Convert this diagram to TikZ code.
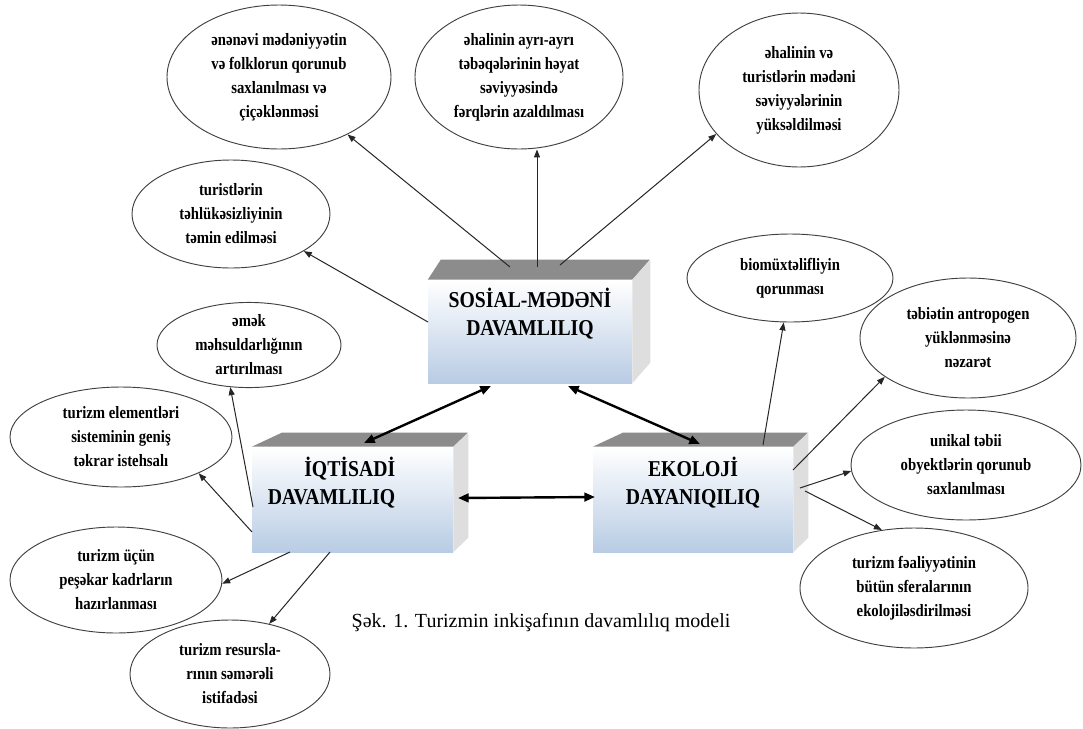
\documentclass[tikz,border=0pt]{standalone}
\usepackage{fontspec}
\setmainfont{Liberation Serif}
\newfontfamily\ellfont[FakeStretch=0.85]{Liberation Serif}
\newfontfamily\boxfont[FakeStretch=0.87]{Liberation Serif}
\usetikzlibrary{shapes.geometric,arrows.meta}
\definecolor{boxblue}{RGB}{184,204,228}
\definecolor{topgray}{RGB}{140,140,140}
\definecolor{sidegray}{RGB}{222,222,222}
\begin{document}
\begin{tikzpicture}[x=0.75pt,y=-0.75pt,
  ell/.style={ellipse, draw=black!75, line width=0.7pt, inner sep=0pt, align=center,
    font=\ellfont\bfseries\fontsize{13pt}{18pt}\selectfont},
  esz/.style 2 args={minimum width=#1*1.5pt, minimum height=#2*1.5pt},
  front/.style={draw=none, inner sep=0pt, top color=white, bottom color=boxblue},
  fsz/.style 2 args={minimum width=#1*0.75pt, minimum height=#2*0.75pt},
  boxtext/.style={align=center, inner sep=0pt, font=\boxfont\bfseries\fontsize{17pt}{21pt}\selectfont},
  conn/.style={-{Triangle[length=6pt,width=4.5pt]}, line width=0.75pt, black!85},
  dbl/.style={{Triangle[length=8pt,width=6.5pt]}-{Triangle[length=8pt,width=6.5pt]}, line width=1.8pt, black}
]
\useasboundingbox (0,0) rectangle (1083,729);
\fill[white] (0,0) rectangle (1083,729);

% ---- boxes ----
\node[front, fsz={204}{103}] (SMbox) at (530,331.5) {};
\fill[topgray] (SMbox.north west) -- ++(13,-20) -- ++(209,0) -- (SMbox.north east) -- cycle;
\fill[sidegray] (SMbox.north east) -- ++(18,-20) -- ++(0,103) -- (SMbox.south east) -- cycle;
\node[boxtext] (SMtext) at (530,314) {SOSİAL-MƏDƏNİ\\DAVAMLILIQ};

\node[front, fsz={201}{105}] (IQbox) at (352.5,499.5) {};
\fill[topgray] (IQbox.north west) -- ++(30,-14) -- ++(186,0) -- (IQbox.north east) -- cycle;
\fill[sidegray] (IQbox.north east) -- ++(15,-14) -- ++(0,105) -- (IQbox.south east) -- cycle;
\node[boxtext, align=right] (IQtext) at (331.5,482.5) {İQTİSADİ\\DAVAMLILIQ};

\node[front, fsz={200}{105}] (EKbox) at (693,499.5) {};
\fill[topgray] (EKbox.north west) -- ++(30,-14) -- ++(185,0) -- (EKbox.north east) -- cycle;
\fill[sidegray] (EKbox.north east) -- ++(15,-14) -- ++(0,105) -- (EKbox.south east) -- cycle;
\node[boxtext] (EKtext) at (693,482.5) {EKOLOJİ\\DAYANIQILIQ};

% ---- ellipses ----
\node[ell, esz={112}{72}] (e1) at (279,77) {ənənəvi mədəniyyətin\\və folklorun qorunub\\saxlanılması və\\çiçəklənməsi};
\node[ell, esz={104}{72}] (e2) at (519,77) {əhalinin ayrı-ayrı\\təbəqələrinin həyat\\səviyyəsində\\fərqlərin azaldılması};
\node[ell, esz={100}{77}] (e3) at (799,90) {əhalinin və\\turistlərin mədəni\\səviyyələrinin\\yüksəldilməsi};
\node[ell, esz={99}{54}] (e4) at (231,214) {turistlərin\\təhlükəsizliyinin\\təmin edilməsi};
\node[ell, esz={92}{42}] (e5) at (249,345) {əmək\\məhsuldarlığının\\artırılması};
\node[ell, esz={111}{50}] (e6) at (121,437) {turizm elementləri\\sisteminin geniş\\təkrar istehsalı};
\node[ell, esz={106}{53}] (e7) at (116,580) {turizm üçün\\peşəkar kadrların\\hazırlanması};
\node[ell, esz={100}{54}] (e8) at (230,674) {turizm resursla-\\rının səmərəli\\istifadəsi};
\node[ell, esz={103}{44}] (e9) at (790,278) {biomüxtəlifliyin\\qorunması};
\node[ell, esz={108}{60}] (e10) at (968,338) {təbiətin antropogen\\yüklənməsinə\\nəzarət};
\node[ell, esz={115}{55}] (e11) at (966,465) {unikal təbii\\obyektlərin qorunub\\saxlanılması};
\node[ell, esz={114}{60}] (e12) at (914,588) {turizm fəaliyyətinin\\bütün sferalarının\\ekolojiləsdirilməsi};

% ---- connector start points ----
\coordinate (s1) at (510,267);
\coordinate (s2) at (537,267);
\coordinate (s3) at (560,265);
\coordinate (s4) at (428,322);
\coordinate (i5) at (253,507);
\coordinate (i6) at (252,532);
\coordinate (i7) at (290,552);
\coordinate (i8) at (330,552);
\coordinate (k9) at (763,445);
\coordinate (k10) at (793,470);
\coordinate (k11) at (800,488);
\coordinate (k12) at (805,491);

\draw[conn] (s1) -- (e1.320);
\draw[conn] (s2) -- (s2 |- e2.south);
\draw[conn] (s3) -- (e3.208);
\draw[conn] (s4) -- (e4.333);
\draw[conn] (i5) -- (e5.246);
\draw[conn] (i6) -- (e6.335);
\draw[conn] (i7) -- (e7.358);
\draw[conn] (i8) -- (e8.52);
\draw[conn] (k9) -- (e9.262);
\draw[conn] (k10) -- (e10.205);
\draw[conn] (k11) -- (e11.183);
\draw[conn] (k12) -- (e12.119);

% ---- thick double arrows ----
\coordinate (a1) at (491,386);
\coordinate (a2) at (364,443);
\coordinate (b1) at (568,386);
\coordinate (b2) at (700,444);
\coordinate (c1) at (458,498);
\coordinate (c2) at (595,497);
\draw[dbl] (a1) -- (a2);
\draw[dbl] (b1) -- (b2);
\draw[dbl] (c1) -- (c2);

% ---- caption ----
\node[font=\fontsize{15pt}{17pt}\selectfont, inner sep=0pt] (cap) at (541,623) {Şək. 1. Turizmin inkişafının davamlılıq modeli};
\end{tikzpicture}
\end{document}
